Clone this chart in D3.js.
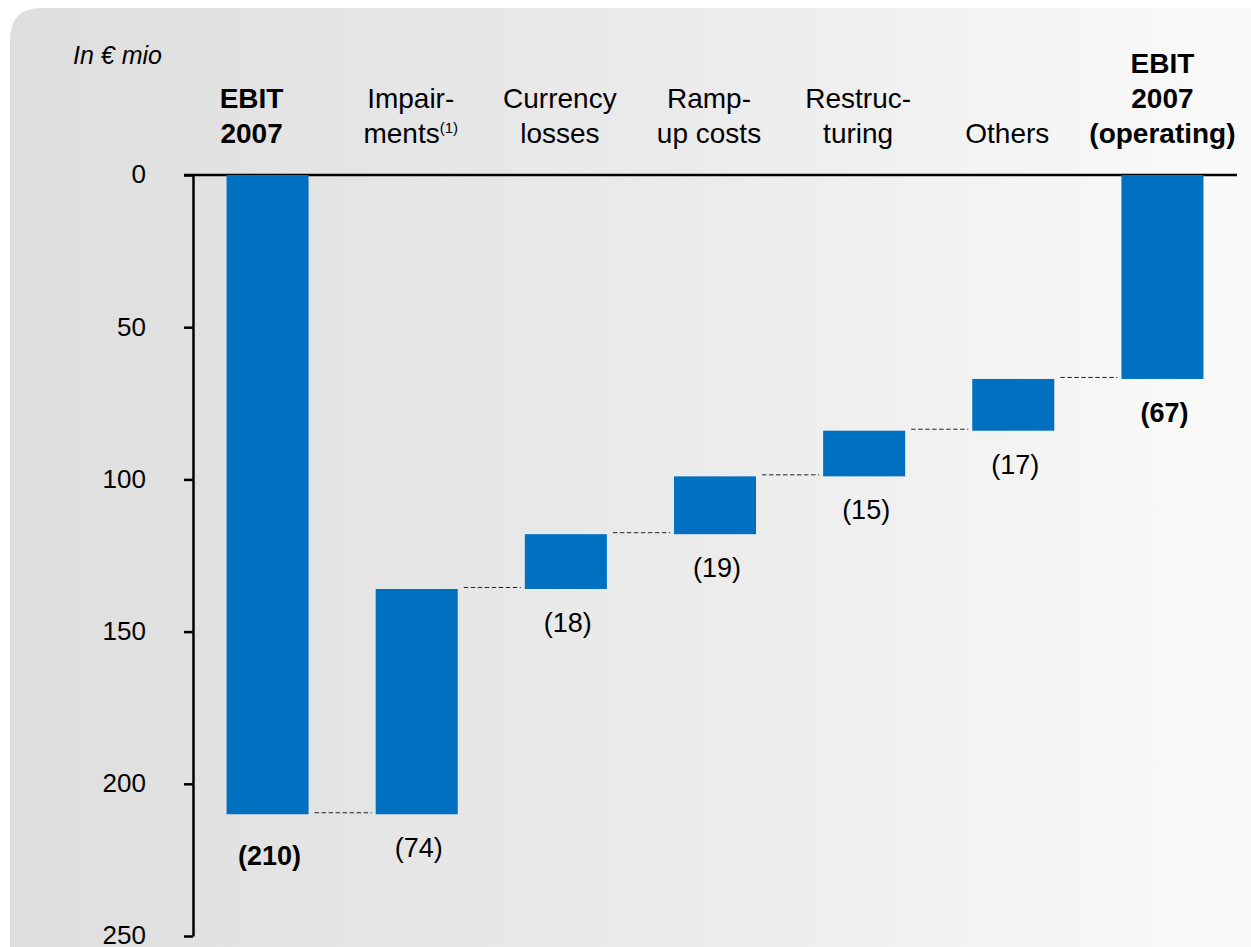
<!DOCTYPE html>
<html>
<head>
<meta charset="utf-8">
<script src="https://cdn.jsdelivr.net/npm/d3@7"></script>
<style>
  html, body { margin: 0; padding: 0; background: #ffffff; }
  svg { display: block; font-family: "Liberation Sans", Arial, sans-serif; }
</style>
</head>
<body>
<svg id="chart" width="1251" height="947"></svg>
<script>
// Bridge from reported EBIT 2007 to operating EBIT 2007 (in € mio)
const categories = ["EBIT 2007", "Impairments", "Currency losses", "Ramp-up costs", "Restructuring", "Others", "EBIT 2007 (operating)"];
const categoryLines = [["EBIT", "2007"], ["Impair-", "ments"], ["Currency", "losses"], ["Ramp-", "up costs"], ["Restruc-", "turing"], ["Others"], ["EBIT", "2007", "(operating)"]];
const amounts = [210, 74, 18, 19, 15, 17, 67];
const kinds = ["total", "step", "step", "step", "step", "step", "total"];
const yTicks = [0, 50, 100, 150, 200, 250];
const unitLabel = "In € mio";

const W = 1251, H = 947;
const svg = d3.select("#chart");

// Panel background with a soft horizontal grey gradient and a rounded top-left corner
const defs = svg.append("defs");
const grad = defs.append("linearGradient").attr("id", "panelGrad")
  .attr("x1", "0").attr("y1", "0").attr("x2", "1").attr("y2", "0");
grad.append("stop").attr("offset", "0%").attr("stop-color", "#dedede");
grad.append("stop").attr("offset", "55%").attr("stop-color", "#ebebeb");
grad.append("stop").attr("offset", "100%").attr("stop-color", "#fafafa");

const px = 10, py = 8, r = 32;
svg.append("path")
  .attr("d", `M${px},${H} L${px},${py + r} Q${px},${py} ${px + r},${py} L${W},${py} L${W},${H} Z`)
  .attr("fill", "url(#panelGrad)");

// Scales
const x = d3.scaleBand().domain(categories).range([193, 1237])
  .paddingInner(0.45).paddingOuter(0.225);
const y = d3.scaleLinear().domain([0, 250]).range([175, 936]);

// Running levels for the waterfall
const bars = [];
let level = 0;
categories.forEach((c, i) => {
  let from, to;
  if (kinds[i] === "total") { from = 0; to = amounts[i]; level = amounts[i]; }
  else { from = level; to = level - amounts[i]; level = to; }
  bars.push({ cat: c, lines: categoryLines[i], amount: amounts[i], kind: kinds[i],
              lo: Math.min(from, to), hi: Math.max(from, to), end: level });
});

// Axis: vertical line with ticks on the left, horizontal zero line across the top
const yAxis = d3.axisLeft(y).tickValues(yTicks).tickSize(9).tickPadding(38).tickSizeOuter(0);
const gy = svg.append("g").attr("transform", "translate(193,0)").call(yAxis);
gy.select(".domain").attr("stroke", "#000").attr("stroke-width", 2.5);
gy.selectAll(".tick line").attr("stroke", "#000").attr("stroke-width", 2.5);
gy.selectAll(".tick text").attr("font-size", 26).attr("fill", "#000").attr("dy", "0.3em")
  .attr("font-family", "Liberation Sans, Arial, sans-serif");

svg.append("line").attr("x1", 184).attr("x2", 1237).attr("y1", y(0)).attr("y2", y(0))
  .attr("stroke", "#000").attr("stroke-width", 2.5);

// Dashed connectors between consecutive bars
for (let i = 0; i < bars.length - 1; i++) {
  const lv = bars[i].kind === "total" ? bars[i].amount : bars[i].end;
  svg.append("line")
    .attr("x1", x(bars[i].cat) + x.bandwidth() + 6)
    .attr("x2", x(bars[i + 1].cat) - 4)
    .attr("y1", y(lv) - 1.5).attr("y2", y(lv) - 1.5)
    .attr("stroke", "#222").attr("stroke-width", 1)
    .attr("stroke-dasharray", "4.5,2.5");
}

// Bars
svg.append("g").selectAll("rect").data(bars).join("rect")
  .attr("x", d => x(d.cat))
  .attr("width", x.bandwidth())
  .attr("y", d => y(d.lo))
  .attr("height", d => y(d.hi) - y(d.lo))
  .attr("fill", "#0070c0");

// Value labels under each bar
svg.append("g").selectAll("text").data(bars).join("text")
  .attr("x", d => x(d.cat) + x.bandwidth() / 2 + 2)
  .attr("y", d => y(d.hi) + (d.kind === "total" && d.amount > 100 ? 51 : 43))
  .attr("text-anchor", "middle")
  .attr("font-size", 27)
  .attr("font-weight", d => d.kind === "total" ? "bold" : "normal")
  .attr("fill", "#000")
  .text(d => `(${d.amount})`);

// Category headers, bottom-aligned above the zero line
const lineGap = 35, lastBaseline = 143;
bars.forEach((d, i) => {
  const cx = x(d.cat) + x.bandwidth() / 2 - (i === 0 ? 16 : i === bars.length - 1 ? 0 : 6);
  const t = svg.append("text")
    .attr("text-anchor", "middle")
    .attr("font-size", 28)
    .attr("font-weight", d.kind === "total" ? "bold" : "normal")
    .attr("fill", "#000");
  d.lines.forEach((ln, k) => {
    const ts = t.append("tspan").attr("x", cx)
      .attr("y", lastBaseline - (d.lines.length - 1 - k) * lineGap);
    ts.text(ln);
    if (d.cat === "Impairments" && k === 1) {
      ts.append("tspan").attr("font-size", 15).attr("dy", -10).text("(1)");
    }
  });
});

// Unit label
svg.append("text").attr("x", 73).attr("y", 64)
  .attr("font-size", 25).attr("font-style", "italic").attr("fill", "#000")
  .text(unitLabel);
</script>
</body>
</html>
